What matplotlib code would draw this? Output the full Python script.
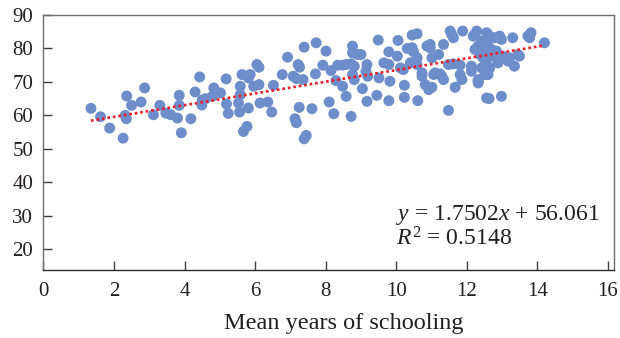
import matplotlib
matplotlib.use("Agg")
import matplotlib.pyplot as plt
import numpy as np

# ---- data ----
schooling = [
    1.35, 1.62, 1.88, 2.26, 2.36, 2.32, 2.35, 2.50, 2.77, 2.87, 3.12, 3.30, 3.47, 3.61, 3.80,
    3.85, 3.85, 3.91, 4.18, 4.30, 4.43, 4.50, 4.60, 4.49, 4.83, 5.02, 4.79, 5.18, 5.19, 5.24,
    5.58, 5.58, 5.53, 5.56, 5.63, 5.67, 5.77,
    5.86, 5.81, 6.05, 6.11, 5.96, 6.11, 5.81, 6.14, 6.36, 6.47, 6.52, 6.77, 6.92, 7.08, 7.17,
    7.22, 7.26, 7.36, 7.39, 7.73, 7.71, 7.92, 8.01, 8.10, 7.25, 7.61, 7.13, 7.17, 7.45, 7.39,
    8.15, 8.34, 8.48, 8.29, 8.48, 8.76, 8.76, 8.90, 9.00, 8.58, 8.72, 8.81, 8.76, 8.81, 8.58,
    8.23, 8.72, 9.04, 9.17, 9.14, 9.19, 9.17, 9.45, 9.49, 9.51, 9.65, 9.79, 9.79, 10.03, 9.82,
    9.79, 10.05, 10.20, 10.23, 10.23, 10.31,
    10.12, 10.45, 10.59, 10.45, 10.49, 10.40, 10.59, 10.59, 10.73, 10.73, 10.61, 10.82, 11.01,
    10.96, 10.96, 11.01, 11.20, 11.10, 11.24, 11.29, 11.34, 11.53, 11.62, 11.57, 11.48, 11.62,
    11.81, 11.48, 11.67, 11.81, 11.86, 11.88, 12.13, 12.13, 12.23, 12.32, 12.28, 12.23, 12.18,
    12.32, 12.42, 12.46, 12.51, 12.56, 10.92, 11.06, 11.34, 10.87,
    12.56, 12.65, 12.60, 12.79, 12.93, 12.98, 12.37, 12.51, 12.70, 12.84, 12.74, 12.51, 12.56,
    12.42, 12.65, 12.88, 12.93, 13.02, 13.17, 13.21, 13.35, 13.30, 13.45, 13.49, 13.73, 13.82,
    14.20, 12.60, 12.32, 12.32, 12.63, 12.98, 13.78,
]
life_expectancy = [
    62.1, 59.6, 56.2, 53.2, 65.8, 60.0, 59.0, 63.0, 64.0, 68.2, 60.2, 63.0, 60.7, 60.2, 59.2,
    66.0, 63.0, 54.8, 59.0, 67.0, 71.5, 64.6, 65.0, 63.1, 68.2, 66.7, 65.7, 70.9, 63.4, 60.6,
    68.7, 66.2, 63.7, 61.0, 72.2, 55.2, 56.7,
    72.2, 71.2, 75.2, 74.4, 68.7, 69.2, 62.2, 63.7, 64.0, 61.0, 69.0, 72.2, 77.4, 71.7, 71.0,
    75.2, 74.4, 70.7, 80.4, 81.7, 72.4, 75.0, 79.2, 64.0, 62.4, 62.0, 59.0, 57.8, 54.0, 53.0,
    73.4, 75.0, 75.0, 70.4, 68.7, 80.7, 78.7, 78.2, 78.2, 75.2, 75.4, 74.7, 72.2, 70.7, 65.7,
    60.5, 59.7, 68.0, 75.2, 73.2, 71.7, 64.2, 66.0, 82.5, 71.2, 75.7, 75.2, 79.0, 77.7, 70.2,
    64.4, 82.4, 73.7, 69.0, 65.4, 80.0,
    74.2, 84.0, 84.4, 80.2, 79.0, 75.7, 77.2, 75.2, 72.7, 71.7, 64.4, 69.2, 68.4,
    81.2, 80.2, 77.2, 78.2, 72.7, 72.4, 71.7, 81.2, 85.2, 83.2, 84.2, 75.2, 75.4,
    75.0, 61.5, 68.4, 72.2, 70.7, 85.2, 74.7, 73.2, 79.7, 80.7, 85.2, 84.2, 83.7,
    70.2, 82.2, 77.2, 72.2, 65.2, 67.7, 72.2, 70.7, 80.7,
    84.7, 83.7, 82.2, 83.2, 83.7, 82.7, 78.2, 79.2, 79.7, 79.2, 77.7, 76.7, 75.2,
    74.2, 74.2, 75.7, 77.2, 77.7, 76.2, 77.2, 74.7, 83.2, 78.2, 77.7, 83.7, 84.7,
    81.7, 72.2, 70.7, 69.7, 65.0, 65.7, 83.2,
]
trend_slope = 1.7502
trend_intercept = 56.061
r_squared = 0.5148
x_ticks = [0, 2, 4, 6, 8, 10, 12, 14, 16]
y_ticks = [20, 30, 40, 50, 60, 70, 80, 90]
x_label = "Mean years of schooling"

# ---- style ----
plt.rcParams['font.family'] = ['Liberation Serif', 'DejaVu Serif']
plt.rcParams['mathtext.fontset'] = 'custom'
plt.rcParams['mathtext.rm'] = 'Liberation Serif'
plt.rcParams['mathtext.it'] = 'Liberation Serif:italic'

text_color = '#231f20'
fig = plt.figure(figsize=(6.2, 3.38), dpi=100)
ax = fig.add_axes([43 / 620, 1 - 270 / 338, 571 / 620, 255 / 338])

ax.scatter(schooling, life_expectancy, s=62, color='#6d8ecb', edgecolors='none', zorder=2)

xs = np.array([min(schooling), max(schooling)])
ax.plot(xs, trend_slope * xs + trend_intercept, color='#ee1c25', lw=1.9,
        linestyle=(0, (1, 1.1)), dash_capstyle='butt', zorder=3)

ax.set_xlim(-0.01, 16.17)
ax.set_ylim(13.8, 90)
ax.set_xticks(x_ticks)
ax.set_yticks(y_ticks)
ax.tick_params(axis='both', direction='in', length=6.5, width=1, labelsize=15,
               colors='#404040', labelcolor=text_color)
ax.tick_params(axis='x', pad=9)
ax.tick_params(axis='y', pad=7)

for side in ['top', 'right', 'left']:
    ax.spines[side].set_color('#6f6f6f')
    ax.spines[side].set_linewidth(1.0)
ax.spines['bottom'].set_color('#2a2a2a')
ax.spines['bottom'].set_linewidth(1.0)

ax.set_xlabel(x_label, fontsize=17.5, color=text_color, labelpad=7)
ax.xaxis.set_label_coords(0.527, -0.17)
ax.xaxis.label.set_va('top')

ax.text(10.0, 30.2, r'$y$ = %.4f$x$ + %.3f' % (trend_slope, trend_intercept),
        fontsize=17, color=text_color, va='center', ha='left')
ax.text(10.0, 23.0, r'$R^2$ = %.4f' % r_squared,
        fontsize=17, color=text_color, va='center', ha='left')

fig.savefig('out.png', dpi=100)
